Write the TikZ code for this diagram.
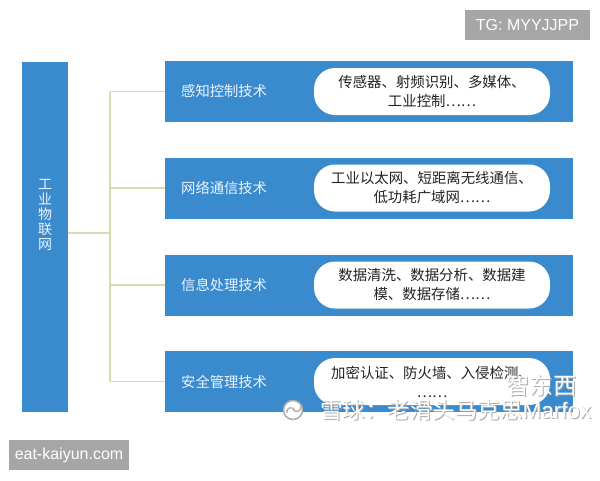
\documentclass[tikz,border=0pt]{standalone}
\usepackage{fontspec}
\setmainfont{Noto Sans CJK SC}
\newfontfamily\latinsans{Liberation Sans}
\definecolor{boxblue}{RGB}{58,138,206}
\definecolor{connc}{RGB}{212,220,176}
\definecolor{markgray}{RGB}{166,166,166}
\definecolor{pilltext}{RGB}{35,35,35}
\definecolor{labelwhite}{RGB}{236,244,252}
\tikzset{
  bluebox/.style={fill=boxblue, draw=none, minimum width=408pt, minimum height=61pt, inner sep=0pt},
  catlabel/.style={anchor=west, text=labelwhite, font=\fontsize{14.3}{16}\selectfont, inner sep=0pt},
  pill/.style={fill=white, draw=none, rounded corners=21pt, minimum width=236pt, minimum height=47pt, inner sep=0pt, align=center, text=pilltext, font=\fontsize{14.4}{19}\selectfont},
  conn/.style={draw=connc, line width=1.2pt},
  graytag/.style={fill=markgray, text=white, inner sep=0pt, font=\latinsans\fontsize{16}{18}\selectfont},
  wmshadow/.style={text=gray!65, inner sep=0pt},
  wmtext/.style={text=white, inner sep=0pt},
}
\begin{document}
\begin{tikzpicture}[x=1pt,y=-1pt]
\useasboundingbox (0,0) rectangle (600,480);
\fill[white] (0,0) rectangle (600,480);
% root
\node[fill=boxblue, minimum width=46pt, minimum height=350pt, inner sep=0pt] (root) at (45,237) {};
\node[text=labelwhite, align=center, font=\fontsize{14}{15}\selectfont, inner sep=0pt] (roottext) at (45,215) {工\\业\\物\\联\\网};
% categories
\node[bluebox] (c1) at (369,91.5) {};
\node[bluebox] (c2) at (369,188) {};
\node[bluebox] (c3) at (369,285) {};
\node[bluebox] (c4) at (369,381.5) {};
\node[catlabel] (l1) at (181,91.5) {感知控制技术};
\node[catlabel] (l2) at (181,188) {网络通信技术};
\node[catlabel] (l3) at (181,285) {信息处理技术};
\node[catlabel] (l4) at (181,381.5) {安全管理技术};
\node[pill] (p1) at (432,91.5) {传感器、射频识别、多媒体、\\工业控制……};
\node[pill] (p2) at (432,188) {工业以太网、短距离无线通信、\\低功耗广域网……};
\node[pill] (p3) at (432,285) {数据清洗、数据分析、数据建\\模、数据存储……};
\node[pill] (p4) at (432,381.5) {加密认证、防火墙、入侵检测、\\……};
% connectors
\coordinate (hub) at (110,233);
\draw[conn] (root.east |- hub) -- (hub);
\draw[conn] (hub |- c1.west) -- (hub |- c4.west);
\draw[conn] (hub |- c1.west) -- (c1.west);
\draw[conn] (hub |- c2.west) -- (c2.west);
\draw[conn] (hub |- c3.west) -- (c3.west);
\draw[conn] (hub |- c4.west) -- (c4.west);
% watermarks
\node[graytag, minimum width=125pt, minimum height=30pt] (tg) at (527.5,25) {TG: MYYJJPP};
\node[graytag, minimum width=120pt, minimum height=30pt] (eat) at (69,455) {eat-kaiyun.com};
\node[wmshadow, font=\fontsize{23.5}{25}\selectfont] (zdx1) at (542.5,386.5) {智东西};
\node[wmtext, font=\fontsize{23.5}{25}\selectfont] (zdx) at (541.5,385.5) {智东西};
\node[wmshadow, font=\fontsize{22.5}{24}\selectfont, anchor=west] (xq1) at (321,411) {雪球：老滑头马克思{\latinsans Marfox}};
\node[wmtext, font=\fontsize{22.5}{24}\selectfont, anchor=west] (xq) at (320,410) {雪球：老滑头马克思{\latinsans Marfox}};
\node[circle, draw=gray!65, line width=1.5pt, fill=white, minimum size=19pt, inner sep=0pt] (logo) at (293,410) {};
\draw[gray!65, line width=1.3pt] (287,413) arc[start angle=200, end angle=20, radius=4pt];
\draw[gray!65, line width=1.3pt] (293,409) arc[start angle=200, end angle=380, radius=4pt];
\end{tikzpicture}
\end{document}
